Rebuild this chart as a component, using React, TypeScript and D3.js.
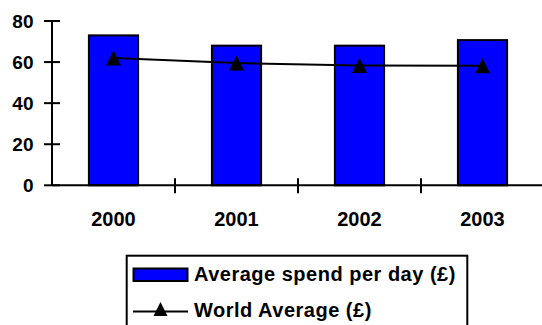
import React from "react";
import * as d3 from "d3";

const years = ["2000", "2001", "2002", "2003"];
const spendPerDay = [73, 68, 68, 70.7];
const worldAverage = [62, 59.5, 58.3, 58.2];
const yTicks = [0, 20, 40, 60, 80];
const legendLabels = ["Average spend per day (£)", "World Average (£)"];

const W = 542;
const H = 325;
const FONT = "'Liberation Sans', Arial, sans-serif";

function Triangle({ cx, cy, size }: { cx: number; cy: number; size: number }) {
  const h = size;
  const w = size;
  const d = `M${cx},${cy - h / 2}L${cx + w / 2},${cy + h / 2}L${cx - w / 2},${cy + h / 2}Z`;
  return <path d={d} fill="#000" />;
}

export default function App() {
  const x = d3.scaleBand<string>().domain(years).range([52, 544]).padding(0);
  const y = d3.scaleLinear().domain([0, 80]).range([185.3, 21]);
  const barW = x.bandwidth() * 0.4;
  const cx = (yr: string) => (x(yr) as number) + x.bandwidth() / 2;

  const line = d3
    .line<number>()
    .x((_, i) => cx(years[i]))
    .y((v) => y(v));

  return (
    <div style={{ position: "fixed", left: 0, top: 0 }}>
      <svg width={W} height={H} style={{ display: "block", background: "#fff" }} fontFamily={FONT}>
        {/* bars */}
        {years.map((yr, i) => (
          <rect
            key={yr}
            x={cx(yr) - barW / 2}
            y={y(spendPerDay[i])}
            width={barW}
            height={y(0) - y(spendPerDay[i])}
            fill="#0000FF"
            stroke="#000"
            strokeWidth={2}
          />
        ))}

        {/* y axis */}
        <line x1={52} x2={52} y1={y(80)} y2={y(0)} stroke="#000" strokeWidth={2} />
        {yTicks.map((t) => (
          <g key={t}>
            <line x1={44} x2={60} y1={y(t)} y2={y(t)} stroke="#000" strokeWidth={2} />
            <text
              x={33.5}
              y={y(t)}
              dy="0.36em"
              textAnchor="end"
              fontSize={19}
              fontWeight="bold"
            >
              {t}
            </text>
          </g>
        ))}

        {/* x axis */}
        <line x1={52} x2={W} y1={y(0)} y2={y(0)} stroke="#000" strokeWidth={2} />
        {years.slice(1).map((yr) => (
          <line
            key={yr}
            x1={x(yr) as number}
            x2={x(yr) as number}
            y1={y(0) - 7}
            y2={y(0) + 8}
            stroke="#000"
            strokeWidth={2}
          />
        ))}
        {years.map((yr) => (
          <text key={yr} x={cx(yr)} y={226} textAnchor="middle" fontSize={20} fontWeight="bold">
            {yr}
          </text>
        ))}

        {/* world average line */}
        <path d={line(worldAverage) ?? ""} fill="none" stroke="#000" strokeWidth={2} />
        {worldAverage.map((v, i) => (
          <Triangle key={i} cx={cx(years[i])} cy={y(v)} size={15} />
        ))}

        {/* legend */}
        <rect x={126.7} y={255.7} width={340.6} height={80} fill="#fff" stroke="#000" strokeWidth={2} />
        <rect x={133.5} y={268.5} width={54} height={12.5} fill="#0000FF" stroke="#000" strokeWidth={2} />
        <text x={194} y={281} fontSize={20} fontWeight="bold" letterSpacing={0.5}>
          {legendLabels[0]}
        </text>
        <line x1={133} x2={188} y1={311.5} y2={311.5} stroke="#000" strokeWidth={2} />
        <Triangle cx={160.5} cy={309} size={14} />
        <text x={194} y={317} fontSize={20} fontWeight="bold" letterSpacing={0.5}>
          {legendLabels[1]}
        </text>
      </svg>
    </div>
  );
}
